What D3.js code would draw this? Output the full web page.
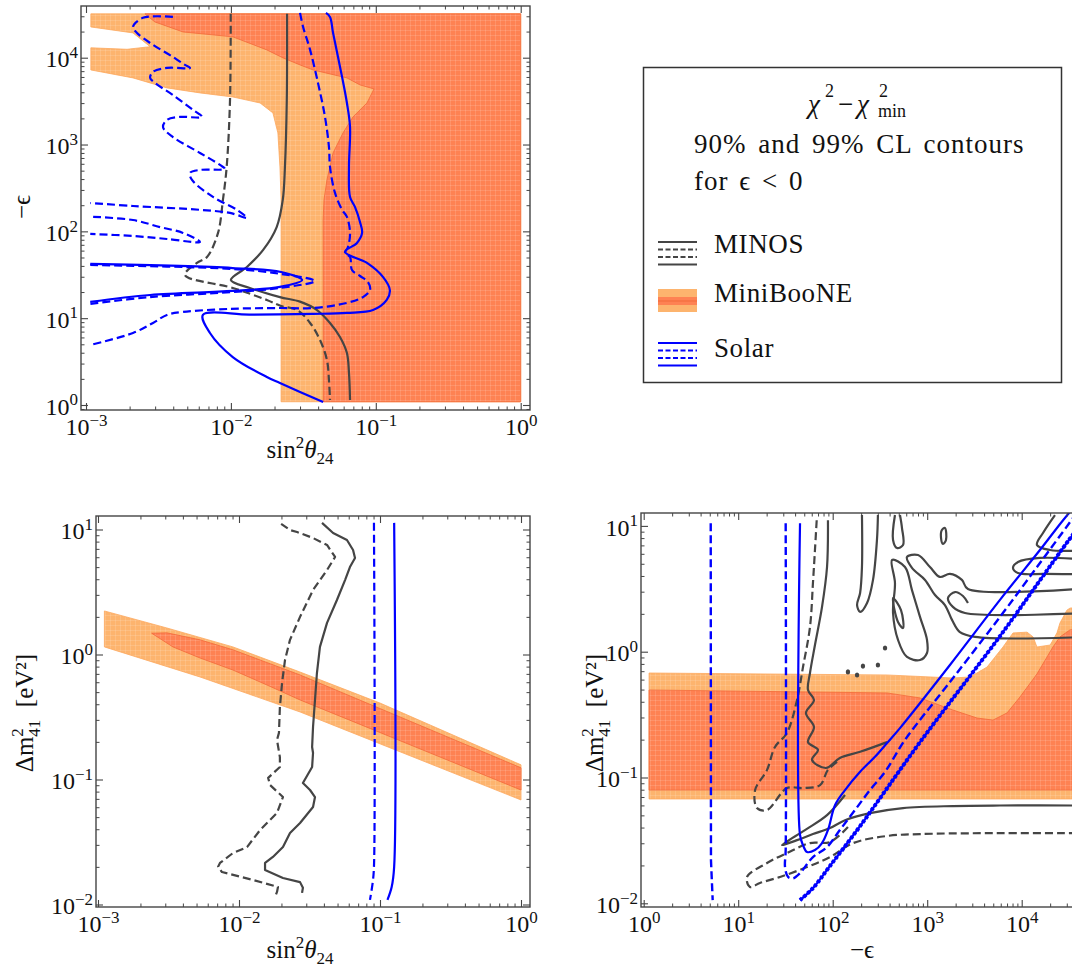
<!DOCTYPE html>
<html>
<head>
<meta charset="utf-8">
<script src="https://cdn.jsdelivr.net/npm/d3@7"></script>
<style>
  body { margin: 0; background: #fff; }
  svg { display: block; }
  svg text { font-family: "Liberation Serif", "Times New Roman", "DejaVu Serif", serif; }
</style>
</head>
<body>
<svg id="chart" width="1072" height="975" font-family="Liberation Serif, serif"></svg>
<script>
// ---------- tick values ----------
const sinTicks = [1e-3, 1e-2, 1e-1, 1];
const epsTicks = [1, 10, 100, 1e3, 1e4];
const dm2Ticks = [1e-2, 1e-1, 1, 10];
const legendItems = ["MINOS", "MiniBooNE", "Solar"];

// ---------- top-left: sin^2(theta24) vs -eps ----------
const tlMiniLight = [[1.08e-3,3.2e4],[1,3.2e4],[1,1.09],[2.22e-2,1.09],[2.22e-2,230],[2.18e-2,552],[2.11e-2,1360],[1.95e-2,2310],[1.59e-2,3010],[1.03e-2,3530],[6.12e-3,3930],[3.62e-3,4490],[2.11e-3,5850],[1.08e-3,7230],[1.08e-3,1.30e4],[1.92e-3,1.25e4],[2.77e-3,1.34e4],[2.11e-3,1.93e4],[1.08e-3,2.26e4]];
const tlMiniDark = [[2.55e-3,3.2e4],[1,3.2e4],[1,1.09],[4.34e-2,1.09],[4.33e-2,135],[4.39e-2,230],[4.60e-2,391],[5.07e-2,800],[5.94e-2,1360],[6.96e-2,2080],[8.69e-2,3010],[9.72e-2,4370],[7.78e-2,4860],[6.32e-2,5850],[3.69e-2,7230],[3.00e-2,8260],[2.29e-2,9950],[1.77e-2,1.23e4],[1.03e-2,1.74e4],[4.67e-3,1.98e4],[2.99e-3,2.58e4]];
const tlMinos99 = [[9.97e-3,3.2e4],[9.86e-3,3260],[9.35e-3,552],[8.81e-3,230],[8.15e-3,95.9],[6.84e-3,50.7],[5.83e-3,43.3],[4.82e-3,31.5],[1.03e-2,22.3],[1.77e-2,16.2],[2.22e-2,13.8],[2.86e-2,12.4],[3.52e-2,8.81],[4.12e-2,5.61],[4.60e-2,3.30],[4.75e-2,1.94],[4.83e-2,1.14]];
const tlMinos90 = [[2.44e-2,3.2e4],[2.43e-2,3260],[2.36e-2,552],[2.28e-2,230],[2.07e-2,112],[1.67e-2,61.1],[1.29e-2,38.9],[1.00e-2,27.5],[1.35e-2,22.3],[2.18e-2,17.5],[3.00e-2,15.5],[3.93e-2,12.4],[4.83e-2,8.81],[5.66e-2,6.07],[6.32e-2,3.97],[6.53e-2,2.34],[6.64e-2,1.14]];
const tlSolar90 = [[4.53e-2,3.28e4],[4.83e-2,2.95e4],[5.07e-2,1.93e4],[5.85e-2,6010],[6.32e-2,3010],[6.64e-2,1590],[6.53e-2,552],[6.64e-2,249],[7.18e-2,191],[7.78e-2,128],[8.04e-2,95.9],[7.41e-2,73.5],[6.13e-2,57.9],[8.69e-2,43.3],[0.112,29.9],[0.125,21.1],[0.119,16.2],[9.57e-2,12.4],[6.32e-2,11.5],[3.69e-2,11.2],[1.35e-2,11.0],[6.41e-3,10.9],[7.17e-3,6.75],[1.03e-2,3.57],[1.77e-2,2.10],[2.18e-2,1.79],[4.33e-2,1.08]];
const tlSolar90Wedge = [[1.07e-3,42.1],[1.03e-2,37.8],[2.22e-2,34.0],[3.10e-2,27.5],[2.18e-2,22.9],[1.03e-2,20.6],[2.77e-3,18.5],[1.07e-3,15.4]];
const tlSolar99 = [[3.00e-2,3.28e4],[3.15e-2,2.26e4],[3.52e-2,1.23e4],[3.99e-2,5130],[4.46e-2,2080],[4.75e-2,938],[4.83e-2,552],[5.23e-2,277],[5.85e-2,177],[6.32e-2,147],[6.64e-2,95.9],[6.43e-2,66.1],[6.13e-2,56.4],[6.64e-2,50.7],[6.85e-2,35.9],[7.78e-2,30.6],[8.83e-2,26.1],[9.12e-2,21.1],[8.16e-2,17.5],[6.32e-2,15.0],[3.69e-2,13.1],[2.18e-2,13.1],[9.86e-3,12.8],[4.67e-3,11.8],[3.62e-3,10.9],[2.90e-3,8.81],[2.11e-3,6.75],[1.07e-3,4.91]];
const tlSolar99Wedge = [[1.07e-3,41.0],[1.03e-2,36.9],[2.22e-2,32.3],[3.80e-2,26.8],[2.18e-2,22.3],[1.03e-2,20.0],[2.77e-3,17.5],[1.07e-3,14.6]];
const tlSolar99Spike = [[1.12e-3,147],[2.11e-3,135],[3.24e-3,112],[4.67e-3,95.9],[6.12e-3,75.5],[3.62e-3,81.7],[2.11e-3,88.5],[1.07e-3,93.3]];
const tlSolar99Wiggle = [[3.98e-3,2.95e4],[2.47e-3,2.88e4],[2.11e-3,2.26e4],[2.25e-3,1.93e4],[2.77e-3,1.48e4],[3.98e-3,1.02e4],[4.82e-3,8260],[5.22e-3,7620],[3.62e-3,7620],[2.90e-3,6860],[2.77e-3,5850],[2.99e-3,5130],[3.98e-3,3720],[5.47e-3,2510],[6.32e-3,2080],[4.45e-3,2080],[3.62e-3,1920],[3.40e-3,1590],[3.98e-3,1220],[6.12e-3,800],[8.41e-3,582],[9.10e-3,524],[6.12e-3,510],[5.22e-3,471],[5.39e-3,391],[7.52e-3,249],[1.10e-2,177],[1.29e-2,143],[9.86e-3,163],[6.12e-3,177],[2.11e-3,196],[1.07e-3,212]];

// ---------- bottom-left: sin^2(theta24) vs dm41^2 ----------
const blMiniLight = [[1.11e-3,2.23],[3.08e-3,1.63],[9.06e-3,1.15],[2.71e-2,0.724],[0.1,0.409],[1,0.131],[1,6.86e-2],[2.71e-2,0.347],[5.29e-3,0.661],[1.11e-3,1.15]];
const blMiniDark = [[2.40e-3,1.48],[3.08e-3,1.49],[5.29e-3,1.31],[9.06e-3,1.09],[2.71e-2,0.686],[1,0.124],[1,8.24e-2],[2.71e-2,0.433],[1.58e-2,0.570],[9.06e-3,0.751],[5.29e-3,0.938],[3.40e-3,1.15]];
const blMinos99 = [[1.99e-2,11.1],[2.30e-2,9.91],[2.58e-2,9.55],[3.35e-2,8.55],[4.21e-2,7.52],[4.80e-2,6.03],[4.21e-2,4.74],[3.35e-2,3.28],[2.71e-2,2.00],[2.30e-2,1.31],[2.12e-2,0.904],[2.02e-2,0.592],[1.95e-2,0.380],[1.92e-2,0.236],[1.86e-2,0.207],[1.95e-2,0.151],[1.95e-2,0.126],[1.61e-2,0.103],[1.66e-2,9.04e-2],[2.05e-2,7.24e-2],[1.86e-2,5.40e-2],[1.41e-2,3.94e-2],[1.14e-2,2.88e-2],[9.06e-3,2.58e-2],[7.33e-3,2.15e-2],[7.10e-3,2.00e-2],[7.57e-3,1.82e-2],[1.26e-2,1.57e-2],[1.89e-2,1.38e-2],[1.86e-2,1.26e-2],[1.80e-2,1.15e-2]];
const blMinos90 = [[3.88e-2,11.3],[4.65e-2,9.38],[5.83e-2,8.24],[6.44e-2,6.86],[6.65e-2,5.92],[6.12e-2,5.01],[5.65e-2,3.94],[4.95e-2,2.73],[4.21e-2,1.79],[3.75e-2,1.15],[3.57e-2,0.711],[3.46e-2,0.433],[3.35e-2,0.263],[3.30e-2,0.182],[3.35e-2,0.163],[3.30e-2,0.126],[2.84e-2,9.38e-2],[3.19e-2,8.24e-2],[3.46e-2,7.24e-2],[3.35e-2,6.03e-2],[2.71e-2,4.49e-2],[2.30e-2,3.73e-2],[2.05e-2,2.88e-2],[1.74e-2,2.40e-2],[1.53e-2,2.15e-2],[1.53e-2,1.89e-2],[2.05e-2,1.63e-2],[2.71e-2,1.51e-2],[2.84e-2,1.36e-2],[2.80e-2,1.24e-2]];
const blSolar99 = [[9.06e-2,11.3],[9.06e-2,2.00e-2],[8.87e-2,1.49e-2],[8.49e-2,1.09e-2]];
const blSolar90 = [[0.126,11.3],[0.126,2.00e-2],[0.121,1.38e-2],[0.113,1.09e-2]];

// ---------- bottom-right: -eps vs dm41^2 ----------
const brMiniLight = [[1.14,0.677],[376,0.653],[1870,0.618],[2840,0.630],[4300,0.755],[6340,1.09],[8090,1.41],[1.14e4,1.43],[1.32e4,1.31],[1.45e4,1.09],[2.00e4,1.13],[2.36e4,1.41],[2.54e4,1.69],[3.01e4,2.14],[3.24e4,2.22],[5e4,2.3],[5e4,6.75e-2],[1.14,6.75e-2]];
const brMiniDark = [[1.14,0.496],[376,0.470],[839,0.429],[1870,0.344],[3370,0.297],[4970,0.286],[7000,0.326],[9600,0.437],[1.45e4,0.665],[2.14e4,1.09],[2.54e4,1.31],[3.24e4,1.49],[5e4,1.55],[5e4,7.94e-2],[1.14,7.94e-2]];
const brSolar99Far = [[5.12,10.5],[5.15,2.21e-2],[5.37,1.06e-2]];
const brSolar99 = [[31.8,10.5],[31.8,2.65e-2],[31.3,1.94e-2],[33.7,1.62e-2],[38.0,1.58e-2],[45.1,1.74e-2],[61.8,2.33e-2],[87.1,2.80e-2],[119,3.82e-2],[172,5.51e-2],[248,7.94e-2],[358,0.111],[582,0.199],[1740,0.574],[5890,1.89],[1.56e4,5.07],[3.24e4,10.7],[4.14e4,13.9]];
const brSolar90 = [[45.1,10.5],[45.1,3.49e-2],[48.5,2.90e-2],[53.5,2.56e-2],[64.9,2.65e-2],[77.1,3.01e-2],[89.1,3.82e-2],[106,6.04e-2],[135,7.94e-2],[195,0.111],[280,0.146],[376,0.188],[515,0.247],[1740,0.784],[5890,2.58],[1.56e4,6.43],[2.74e4,11.1],[3.77e4,14.7]];
const brSolarEdge = [[45.1,1.06e-2],[61.8,1.32e-2],[93.5,1.98e-2],[195,4.11e-2],[839,0.191],[5890,1.33],[3.16e4,7.73],[4.68e4,11.3]];
const brMinos90Upper = [[89.1,11.1],[87.1,4.71],[77.1,2.27],[64.9,1.13],[57.5,0.677],[54.8,0.496],[63.4,0.413],[52.1,0.326],[63.4,0.252],[54.8,0.191],[69.8,0.166],[60.4,0.138],[84.9,0.119],[119,0.143],[195,0.160],[376,0.191]];
const brMinos90Lower = [[135,7.26e-2],[87.1,5.02e-2],[50.9,3.82e-2],[29.1,2.90e-2],[41.9,3.18e-2],[61.8,3.55e-2],[93.5,3.96e-2],[135,4.58e-2],[248,5.21e-2],[555,5.71e-2],[1870,5.93e-2],[5890,5.99e-2],[5.2e4,5.99e-2]];
const brMinos99Upper = [[67.7,11.1],[64.9,6.43],[61.8,3.52],[57.5,1.57],[48.5,0.755],[41.9,0.413],[32.8,0.226],[24.5,0.175],[20.2,0.115],[15.1,7.94e-2],[15.8,5.71e-2],[20.2,5.51e-2],[32.8,8.24e-2],[48.5,8.24e-2],[73.5,8.71e-2],[89.1,0.115],[119,0.138]];
const brMinos99Lower = [[145,4.04e-2],[93.5,3.07e-2],[57.5,3.01e-2],[32.8,2.51e-2],[20.2,2.09e-2],[12.4,1.62e-2],[13.3,1.35e-2],[17.0,1.45e-2],[27.7,1.62e-2],[53.5,1.94e-2],[93.5,2.33e-2],[164,3.01e-2],[376,3.43e-2],[839,3.55e-2],[4300,3.61e-2],[5.2e4,3.61e-2]];
const brIslandA = [[204,12.2],[204,4.71],[195,2.93],[181,2.35],[195,2.07],[231,2.44],[267,3.72],[294,7.73],[301,12.2]];
const brIslandB = [[456,12.2],[435,7.73],[479,6.67],[555,7.05],[541,9.62],[515,12.2]];
const brIslandC = [[1430,9.27],[1540,9.62],[1580,7.73],[1470,7.18],[1400,8.02]];
const brIslandD = [[425,5.36],[582,4.71],[690,3.09],[839,1.89],[995,1.24],[995,0.977],[839,0.859],[611,0.908],[491,1.24],[435,2.03],[456,3.52]];
const brIslandE = [[435,2.67],[491,1.72],[555,1.54],[528,2.14]];
const brHand = [[5.2e4,3.21],[2700,3.15],[2330,3.72],[1740,4.15],[1360,3.93],[1070,4.71],[800,5.87],[611,5.66],[690,4.63],[948,3.72],[1210,2.82],[1540,2.35],[1830,1.79],[2220,1.43],[3210,1.31],[5.2e4,1.31]];
const brFinger = [[5.2e4,2.03],[2510,2.03],[1870,2.27],[1660,2.67],[1970,2.98],[2390,2.77],[2700,2.44]];
const brRightA = [[2.25e4,12.2],[1.68e4,8.79],[1.45e4,7.05],[2.00e4,6.43],[5.2e4,6.43]];
const brRightB = [[5.2e4,5.36],[1.56e4,5.56],[9140,5.16],[8090,4.63],[9140,4.22],[1.77e4,4.15],[5.2e4,4.15]];
const brDots = [[358,1.07],[209,0.769],[301,0.784],[181,0.653],[145,0.69]];

// ---------- style ----------
const GRAY = "#454545", BLUE = "#0000ff";
const LIGHT = "#fdb46e", DARK = "#fe8253", DARK_EDGE = "#f26a3a";
const DASH = "8,4";
const SERIF = "Liberation Serif, Times New Roman, serif";

const svg = d3.select("#chart");
const defs = svg.append("defs");

function mesh(id, color) {
  const p = defs.append("pattern").attr("id", id).attr("width", 5).attr("height", 5)
    .attr("patternUnits", "userSpaceOnUse");
  p.append("rect").attr("width", 5).attr("height", 5).attr("fill", color);
  p.append("path").attr("d", "M0,0.5H5M0.5,0V5").attr("stroke", "#fff")
    .attr("stroke-opacity", 0.13).attr("stroke-width", 1);
}
mesh("meshLight", LIGHT);
mesh("meshDark", DARK);

function logScale(a, pa, b, pb, lo, hi) {
  const k = (pb - pa) / (Math.log10(b) - Math.log10(a));
  const p = v => pa + k * (Math.log10(v) - Math.log10(a));
  return d3.scaleLog().domain([lo, hi]).range([p(lo), p(hi)]);
}

function makePanel(id, f) {
  defs.append("clipPath").attr("id", "clip-" + id).append("rect")
    .attr("x", f.l).attr("y", f.t).attr("width", f.r - f.l).attr("height", f.b - f.t);
  const g = svg.append("g");
  const plot = g.append("g").attr("clip-path", `url(#clip-${id})`);
  return { g, plot };
}

function draw(plot, x, y, pts, o) {
  const line = d3.line().x(d => x(d[0])).y(d => y(d[1])).curve(o.curve || d3.curveLinear);
  plot.append("path")
    .attr("d", line(pts) + (o.closed ? "Z" : ""))
    .attr("fill", o.fill || "none")
    .attr("stroke", o.stroke || "none")
    .attr("stroke-width", o.width || 0)
    .attr("stroke-dasharray", o.dash || null)
    .attr("stroke-linejoin", "round");
}

function frameAxes(g, f, x, y, xMajor, yMajor) {
  const isMajor = v => Math.abs(Math.log10(v) - Math.round(Math.log10(v))) < 1e-6;
  const xMinor = x.ticks().filter(v => !isMajor(v) && x(v) >= f.l && x(v) <= f.r);
  const yMinor = y.ticks().filter(v => !isMajor(v) && y(v) >= f.t && y(v) <= f.b);
  const specs = [
    [d3.axisBottom(x), xMajor, xMinor, `translate(0,${f.b})`, "bottom"],
    [d3.axisTop(x), xMajor, xMinor, `translate(0,${f.t})`, null],
    [d3.axisLeft(y), yMajor, yMinor, `translate(${f.l},0)`, "left"],
    [d3.axisRight(y), yMajor, yMinor, `translate(${f.r},0)`, null]
  ];
  specs.forEach(([ax, major, minor, tr, lab]) => {
    const gm = g.append("g").attr("transform", tr).attr("color", GRAY)
      .call(ax.tickValues(minor).tickSize(-3.5).tickFormat(""));
    gm.select(".domain").remove();
    const gM = g.append("g").attr("transform", tr).attr("color", GRAY)
      .call(ax.tickValues(major).tickSize(-7)
        .tickPadding(lab === "bottom" ? 8 : 3)
        .tickFormat(lab ? () => "10" : ""));
    gM.attr("font-family", SERIF).attr("font-size", 24);
    gM.select(".domain").remove();
    gM.selectAll(".tick line").attr("stroke-width", 1.1);
    gm.selectAll(".tick line").attr("stroke-width", 1);
    if (lab) {
      gM.selectAll(".tick text").attr("font-size", 24).attr("fill", "#111")
        .attr("font-family", SERIF)
        .attr("dy", lab === "bottom" ? "0.71em" : "0.38em")
        .each(function (d) {
          const e = Math.round(Math.log10(d));
          d3.select(this).append("tspan").attr("font-size", 17).attr("dy", "-0.55em")
            .text(e < 0 ? "\u2212" + (-e) : String(e));
        });
    }
  });
  g.append("rect").attr("x", f.l).attr("y", f.t).attr("width", f.r - f.l).attr("height", f.b - f.t)
    .attr("fill", "none").attr("stroke", GRAY).attr("stroke-width", 1.4);
}

function sinLabel(cx, base) {
  const t = svg.append("text").attr("x", cx).attr("y", base).attr("text-anchor", "middle")
    .attr("font-size", 25).attr("fill", "#111");
  t.append("tspan").text("sin");
  t.append("tspan").attr("font-size", 17).attr("dy", -10).text("2");
  t.append("tspan").attr("font-style", "italic").attr("dy", 10).text("\u03b8");
  t.append("tspan").attr("font-size", 17).attr("dy", 6).text("24");
}
function epsLabel(cx, cy, rotate) {
  svg.append("text").attr("transform", `translate(${cx},${cy})` + (rotate ? " rotate(-90)" : ""))
    .attr("text-anchor", "middle").attr("font-size", 25).attr("fill", "#111").text("\u2212\u03f5");
}
function dmLabel(cx, cy) {
  const t = svg.append("text").attr("transform", `translate(${cx},${cy}) rotate(-90)`)
    .attr("text-anchor", "middle").attr("font-size", 25).attr("fill", "#111");
  t.append("tspan").text("\u0394m");
  t.append("tspan").attr("font-size", 17).attr("dy", -10).text("2");
  t.append("tspan").attr("font-size", 17).attr("dx", -8.5).attr("dy", 17).text("41");
  t.append("tspan").attr("dy", -7).text("\u2002[eV\u00b2]");
}

const smooth = d3.curveCatmullRom.alpha(0.5);

// ===== top-left =====
{
  const f = { l: 81, t: 6, r: 530, b: 410 };
  const x = logScale(1e-3, 86, 1, 520.7, 9.3e-4, 1.15);
  const y = logScale(1, 405, 1e4, 57.7, 0.88, 3.9e4);
  const { g, plot } = makePanel("tl", f);
  draw(plot, x, y, tlMiniLight, { fill: "url(#meshLight)", closed: true, stroke: "#fca85e", width: 0.8 });
  draw(plot, x, y, tlMiniDark, { fill: "url(#meshDark)", closed: true, stroke: DARK_EDGE, width: 0.8 });
  draw(plot, x, y, tlMinos99, { stroke: GRAY, width: 2.2, dash: DASH, curve: smooth });
  draw(plot, x, y, tlMinos90, { stroke: GRAY, width: 2.2, curve: smooth });
  draw(plot, x, y, tlSolar99, { stroke: BLUE, width: 2.2, dash: DASH, curve: smooth });
  draw(plot, x, y, tlSolar99Wedge, { stroke: BLUE, width: 2.2, dash: DASH, curve: smooth });
  draw(plot, x, y, tlSolar99Spike, { stroke: BLUE, width: 2.2, dash: DASH, curve: smooth });
  draw(plot, x, y, tlSolar99Wiggle, { stroke: BLUE, width: 2.2, dash: DASH, curve: smooth });
  draw(plot, x, y, tlSolar90, { stroke: BLUE, width: 2.2, curve: smooth });
  draw(plot, x, y, tlSolar90Wedge, { stroke: BLUE, width: 2.2, curve: smooth });
  frameAxes(g, f, x, y, sinTicks, epsTicks);
  sinLabel(300, 458);
  epsLabel(30, 207, true);
}

// ===== bottom-left =====
{
  const f = { l: 96, t: 516, r: 530, b: 907 };
  const x = logScale(1e-3, 98, 1, 521, 9.7e-4, 1.15);
  const y = logScale(1, 654.5, 10, 529.5, 9.6e-3, 12.7);
  const { g, plot } = makePanel("bl", f);
  draw(plot, x, y, blMiniLight, { fill: "url(#meshLight)", closed: true, stroke: "#fca85e", width: 0.8 });
  draw(plot, x, y, blMiniDark, { fill: "url(#meshDark)", closed: true, stroke: DARK_EDGE, width: 0.8 });
  draw(plot, x, y, blMinos99, { stroke: GRAY, width: 2.2, dash: DASH });
  draw(plot, x, y, blMinos90, { stroke: GRAY, width: 2.2 });
  draw(plot, x, y, blSolar99, { stroke: BLUE, width: 2.2, dash: DASH, curve: smooth });
  draw(plot, x, y, blSolar90, { stroke: BLUE, width: 2.2, curve: smooth });
  frameAxes(g, f, x, y, sinTicks, dm2Ticks);
  sinLabel(300, 958);
  dmLabel(33, 713);
}

// ===== bottom-right =====
{
  const f = { l: 641, t: 513, r: 1095, b: 907 };
  const x = logScale(1, 643.7, 1e4, 1021.7, 0.94, 6e4);
  const y = logScale(1, 651.7, 10, 525.9, 9.4e-3, 12.7);
  const { g, plot } = makePanel("br", f);
  draw(plot, x, y, brMiniLight, { fill: "url(#meshLight)", closed: true, stroke: "#fca85e", width: 0.8 });
  draw(plot, x, y, brMiniDark, { fill: "url(#meshDark)", closed: true, stroke: DARK_EDGE, width: 0.8 });
  [brMinos90Upper, brMinos90Lower, brIslandA, brIslandB, brHand, brFinger, brRightA, brRightB]
    .forEach(p => draw(plot, x, y, p, { stroke: GRAY, width: 2.2, curve: smooth }));
  [brIslandC, brIslandD, brIslandE]
    .forEach(p => draw(plot, x, y, p, { stroke: GRAY, width: 2.2, curve: d3.curveCatmullRomClosed.alpha(0.5) }));
  plot.selectAll("ellipse.dot").data(brDots).join("ellipse").attr("class", "dot")
    .attr("cx", d => x(d[0])).attr("cy", d => y(d[1])).attr("rx", 2.2).attr("ry", 2.6).attr("fill", GRAY);
  [brMinos99Upper, brMinos99Lower]
    .forEach(p => draw(plot, x, y, p, { stroke: GRAY, width: 2.2, dash: DASH, curve: smooth }));
  draw(plot, x, y, brSolar99Far, { stroke: BLUE, width: 2.4, dash: DASH });
  draw(plot, x, y, brSolar99, { stroke: BLUE, width: 2.4, dash: DASH, curve: smooth });
  draw(plot, x, y, brSolar90, { stroke: BLUE, width: 2.2, curve: smooth });
  draw(plot, x, y, brSolarEdge, { stroke: BLUE, width: 2.4, curve: smooth });
  draw(plot, x, y, brSolarEdge, { stroke: BLUE, width: 4, dash: "3,2", curve: smooth });
  frameAxes(g, f, x, y, epsTicks, dm2Ticks);
  epsLabel(862, 958, false);
  dmLabel(603, 713);
}

// ===== legend =====
{
  const lg = svg.append("g");
  lg.append("rect").attr("x", 643.5).attr("y", 67.5).attr("width", 418).attr("height", 315)
    .attr("fill", "#fff").attr("stroke", "#333").attr("stroke-width", 1.5);
  const title = lg.append("g").attr("font-size", 27).attr("fill", "#111");
  title.append("text").attr("x", 808).attr("y", 113).attr("font-style", "italic").text("\u03c7");
  title.append("text").attr("x", 825).attr("y", 97).attr("font-size", 18).text("2");
  title.append("text").attr("x", 838).attr("y", 113).text("\u2212");
  title.append("text").attr("x", 857).attr("y", 113).attr("font-style", "italic").text("\u03c7");
  title.append("text").attr("x", 879).attr("y", 97).attr("font-size", 18).text("2");
  title.append("text").attr("x", 878).attr("y", 117).attr("font-size", 18).text("min");
  lg.append("text").attr("x", 694).attr("y", 153).attr("font-size", 27).attr("fill", "#111")
    .attr("letter-spacing", 1).attr("word-spacing", 4).text("90% and 99% CL contours");
  lg.append("text").attr("x", 694).attr("y", 190).attr("font-size", 27).attr("fill", "#111")
    .attr("letter-spacing", 1).attr("word-spacing", 3).text("for \u03f5 < 0");

  const rows = [253, 302, 357];
  const lineIcon = (top, color) => {
    [[top, null], [top + 7.5, "5,2.5"], [top + 15, "5,2.5"], [top + 22.5, null]].forEach(([yy, dash]) => {
      lg.append("line").attr("x1", 658).attr("x2", 697).attr("y1", yy).attr("y2", yy)
        .attr("stroke", color).attr("stroke-width", 2).attr("stroke-dasharray", dash);
    });
  };
  lineIcon(242, GRAY);
  lg.append("rect").attr("x", 658).attr("y", 289).attr("width", 39).attr("height", 23).attr("fill", LIGHT);
  lg.append("rect").attr("x", 658).attr("y", 297).attr("width", 39).attr("height", 8).attr("fill", DARK);
  lg.append("line").attr("x1", 658).attr("x2", 697).attr("y1", 301).attr("y2", 301)
    .attr("stroke", DARK_EDGE).attr("stroke-width", 1.2);
  lineIcon(343, BLUE);
  legendItems.forEach((name, i) => {
    lg.append("text").attr("x", 714).attr("y", rows[i]).attr("font-size", 27).attr("fill", "#111")
      .attr("letter-spacing", 0.6).text(name);
  });
}
</script>
</body>
</html>
